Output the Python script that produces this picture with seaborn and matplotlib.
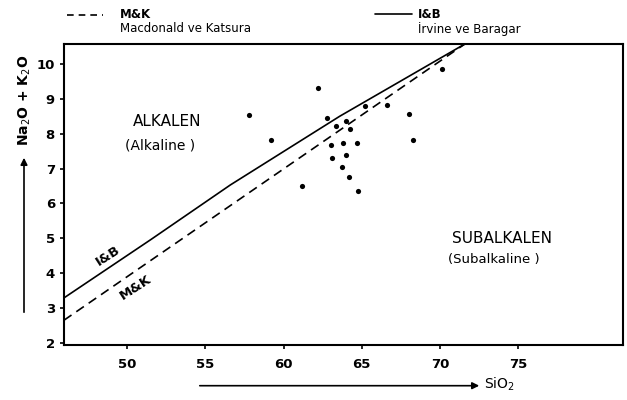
import matplotlib
matplotlib.use("Agg")
import matplotlib.pyplot as plt
from matplotlib.lines import Line2D
import seaborn as sns
import pandas as pd

# ---- data ----
sio2 = [57.81, 59.21, 62.2, 62.76, 63.33, 64.01, 64.27, 63.01, 63.78, 64.72,
        63.97, 63.12, 63.72, 64.2, 61.15, 64.76, 65.23, 66.65, 68.02, 68.3, 70.12]
alk = [8.53, 7.83, 9.30, 8.44, 8.22, 8.37, 8.14, 7.66, 7.72, 7.73,
       7.40, 7.29, 7.04, 6.77, 6.49, 6.35, 8.80, 8.83, 8.56, 7.83, 9.86]

ib_x = [45.95, 51.5, 56.6, 63.6, 71.6]
ib_y = [3.29, 4.96, 6.53, 8.50, 10.57]
mk_x = [45.95, 71.6]
mk_y = [2.65, 10.57]

x_ticks = [50, 55, 60, 65, 70, 75]
y_ticks = [2, 3, 4, 5, 6, 7, 8, 9, 10]

sns.set_style("ticks")
plt.rcParams['font.family'] = ['DejaVu Sans']
plt.rcParams['text.color'] = 'black'
plt.rcParams['axes.labelcolor'] = 'black'
plt.rcParams['xtick.color'] = 'black'
plt.rcParams['ytick.color'] = 'black'

fig = plt.figure(figsize=(6.27, 4.0), dpi=100)
ax = fig.add_axes([0.102, 0.1375, 0.8924, 0.7525])

pts = pd.DataFrame({"SiO2": sio2, "alk": alk})
ib = pd.DataFrame({"SiO2": ib_x, "alk": ib_y})
mk = pd.DataFrame({"SiO2": mk_x, "alk": mk_y})

sns.lineplot(data=ib, x="SiO2", y="alk", sort=False, estimator=None, ax=ax,
             color="black", linewidth=1.2)
sns.lineplot(data=mk, x="SiO2", y="alk", sort=False, estimator=None, ax=ax,
             color="black", linewidth=1.2, dashes=False)
ax.lines[-1].set_dashes([5.5, 3.5])
sns.scatterplot(data=pts, x="SiO2", y="alk", ax=ax, color="black", s=14,
                edgecolor="black", linewidth=0, zorder=5)

ax.set_xlim(45.95, 81.75)
ax.set_ylim(1.94, 10.57)
ax.set_xticks(x_ticks)
ax.set_yticks(y_ticks)
ax.set_xlabel("")
ax.set_ylabel("")
for s in ax.spines.values():
    s.set_visible(True)
    s.set_linewidth(1.5)
    s.set_color("black")
ax.tick_params(axis="both", direction="out", length=3, width=1.2,
               labelsize=9.5, colors="black")
for lab in ax.get_xticklabels() + ax.get_yticklabels():
    lab.set_fontweight("bold")
ax.tick_params(axis="x", pad=6)

# region labels
ax.text(52.55, 8.36, "ALKALEN", ha="center", va="center", fontsize=11,
        color="black")
ax.text(52.1, 7.65, "(Alkaline )", ha="center", va="center", fontsize=10,
        color="black")
ax.text(73.97, 4.99, "SUBALKALEN", ha="center", va="center", fontsize=11,
        color="black")
ax.text(73.45, 4.38, "(Subalkaline )", ha="center", va="center", fontsize=9.5,
        color="black")
ax.text(48.77, 4.50, "I&B", ha="center", va="center", fontsize=9.5,
        fontweight="bold", rotation=33, color="black")
ax.text(50.5, 3.58, "M&K", ha="center", va="center", fontsize=9.5,
        fontweight="bold", rotation=33, color="black")

# axis labels with arrows (figure pixels)
fig.text(25 / 627, 300 / 400, "Na$_2$O + K$_2$O", rotation=90, ha="center",
         va="center", fontsize=10, fontweight="bold", color="black")
ax.annotate("", xy=(24, 245), xycoords="figure pixels", xytext=(24, 85),
            textcoords="figure pixels",
            arrowprops=dict(arrowstyle="-|>", color="black", lw=1.2,
                            mutation_scale=10))
fig.text(484 / 627, 16 / 400, "SiO$_2$", ha="left", va="center", fontsize=10,
         color="black")
ax.annotate("", xy=(482, 14.3), xycoords="figure pixels", xytext=(197, 14.3),
            textcoords="figure pixels",
            arrowprops=dict(arrowstyle="-|>", color="black", lw=1.2,
                            mutation_scale=10))

# legend-like header
fig.add_artist(Line2D([67 / 627, 103 / 627], [385 / 400, 385 / 400],
                      color="black", lw=1.2, dashes=[4, 3]))
fig.text(120 / 627, 386 / 400, "M&K", ha="left", va="center", fontsize=8.5,
         fontweight="bold", color="black")
fig.text(120 / 627, 371 / 400, "Macdonald ve Katsura", ha="left", va="center",
         fontsize=8.5, color="black")
fig.add_artist(Line2D([375 / 627, 412 / 627], [386 / 400, 386 / 400],
                      color="black", lw=1.2))
fig.text(418 / 627, 386 / 400, "I&B", ha="left", va="center", fontsize=8.5,
         fontweight="bold", color="black")
fig.text(418 / 627, 371 / 400, "İrvine ve Baragar", ha="left", va="center",
         fontsize=8.5, color="black")

fig.savefig("out.png", dpi=100)
